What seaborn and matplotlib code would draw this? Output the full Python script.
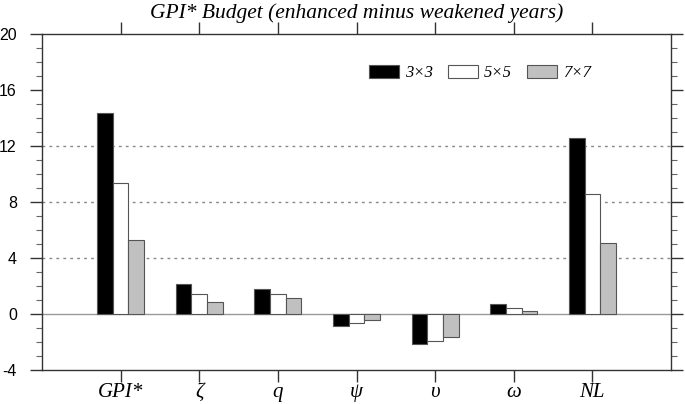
import numpy as np
import pandas as pd
import matplotlib
matplotlib.use("Agg")
import matplotlib.pyplot as plt
from matplotlib.ticker import MultipleLocator
import seaborn as sns

CATEGORIES = ["GPI*", "ζ", "q", "ψ", "υ", "ω", "NL"]
SERIES = ["3×3", "5×5", "7×7"]
VALS_3x3 = [14.36, 2.17, 1.79, -0.86, -2.12, 0.74, 12.6]
VALS_5x5 = [9.39, 1.43, 1.43, -0.62, -1.90, 0.46, 8.57]
VALS_7x7 = [5.29, 0.86, 1.14, -0.40, -1.64, 0.24, 5.07]
Y_TICKS = [-4, 0, 4, 8, 12, 16, 20]
GRID_AT = [4, 8, 12]

PALETTE = {"3×3": "#000000", "5×5": "#ffffff", "7×7": "#c0c0c0"}
SERIF = "Liberation Serif"
SANS = "Liberation Sans"

df = pd.DataFrame({
    "var": CATEGORIES * 3,
    "size": np.repeat(SERIES, len(CATEGORIES)),
    "value": VALS_3x3 + VALS_5x5 + VALS_7x7,
})

sns.set_theme(style="ticks")
plt.rcParams["font.family"] = [SANS, "DejaVu Sans"]
plt.rcParams["axes.unicode_minus"] = False
plt.rcParams["text.color"] = "black"

fig = plt.figure(figsize=(6.85, 4.04), dpi=100)
ax = fig.add_axes([42 / 685, 1 - 370 / 404, 629 / 685, 336 / 404])

# reference lines go under the bars
for g in GRID_AT:
    ax.axhline(g, color="#888888", lw=1.0, ls=(0, (2, 3)), zorder=0)
ax.axhline(0, color="#999999", lw=1.0, zorder=0.5)

sns.barplot(
    data=df, x="var", y="value", hue="size", order=CATEGORIES,
    hue_order=SERIES, palette=PALETTE, width=0.6, gap=0,
    edgecolor="#555555", linewidth=0.8, errorbar=None, ax=ax, zorder=2,
)

ax.set_xlim(-1, len(CATEGORIES))
ax.set_ylim(-4, 20)
ax.set_yticks(Y_TICKS)
ax.yaxis.set_minor_locator(MultipleLocator(1))
ax.set_xlabel("")
ax.set_ylabel("")

for s in ax.spines.values():
    s.set_visible(True)
    s.set_color("#333333")
    s.set_linewidth(1.0)

ax.tick_params(axis="both", which="major", direction="out", length=8.6,
               width=1.0, color="#333333", top=True, right=True,
               labelcolor="black")
ax.tick_params(axis="y", which="minor", direction="out", length=4,
               width=0.8, color="#666666", left=True, right=True)
ax.tick_params(axis="y", labelsize=11.5, pad=9.5)
ax.tick_params(axis="x", labelsize=15, pad=1)
for lab in ax.get_xticklabels():
    lab.set_fontfamily([SERIF, "DejaVu Serif"])
    lab.set_fontstyle("italic")

fig.text(356.5 / 685, 1 - 13 / 404, "GPI* Budget (enhanced minus weakened years)",
         ha="center", va="center", fontsize=15.5, fontstyle="italic",
         family=[SERIF, "DejaVu Serif"], color="black")

handles, labels = ax.get_legend_handles_labels()
leg = ax.legend(handles, labels, loc="center left", bbox_to_anchor=(0.506, 0.884),
                ncol=3, frameon=False, handlelength=1.8, handleheight=0.9,
                handletextpad=0.36, columnspacing=0.9, borderpad=0,
                prop={"family": SERIF, "style": "italic", "size": 12})
for t in leg.get_texts():
    t.set_color("black")

fig.savefig("out.png", dpi=100)
